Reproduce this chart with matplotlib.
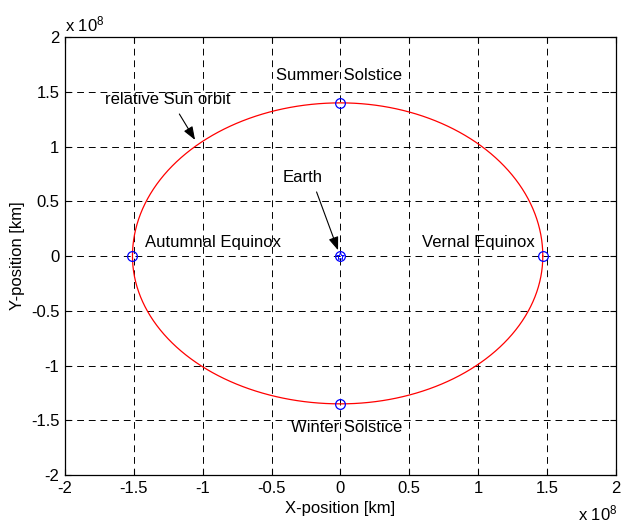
import numpy as np
import matplotlib
matplotlib.use("Agg")
import matplotlib.pyplot as plt

plt.rcParams['font.family'] = ['Liberation Sans', 'DejaVu Sans']
plt.rcParams['mathtext.fontset'] = 'custom'
plt.rcParams['mathtext.rm'] = 'Liberation Sans'
plt.rcParams['mathtext.it'] = 'Liberation Sans'

# Orbit extremes (x 1e8 km)
orbit_right = 1.47
orbit_left = -1.51
orbit_top = 1.40
orbit_bottom = -1.35

# Marker points
event_names = ["Vernal Equinox", "Summer Solstice", "Autumnal Equinox", "Winter Solstice"]
event_x = [1.47, 0.0, -1.51, 0.0]
event_y = [0.0, 1.40, 0.0, -1.35]
earth_x, earth_y = 0.0, 0.0

ticks = [-2, -1.5, -1, -0.5, 0, 0.5, 1, 1.5, 2]
tick_labels = ["-2", "-1.5", "-1", "-0.5", "0", "0.5", "1", "1.5", "2"]

fig = plt.figure(figsize=(6.22, 5.24), dpi=100)
ax = fig.add_axes([0.1045, 0.0935, 0.8855, 0.8355])

t = np.linspace(0, 2 * np.pi, 361)
c, s = np.cos(t), np.sin(t)
ox = np.where(c >= 0, orbit_right, -orbit_left) * c
oy = np.where(s >= 0, orbit_top, -orbit_bottom) * s
ax.plot(ox, oy, color='red', lw=0.9)

ax.plot(event_x, event_y, 'o', mfc='none', mec='blue', ms=7, mew=0.9, ls='none')
ax.plot([earth_x], [earth_y], 'o', mfc='none', mec='blue', ms=7, mew=0.9)
ax.plot([earth_x], [earth_y], '*', mfc='none', mec='blue', ms=6, mew=0.7)

fs = 12
ax.text(-0.47, 1.65, "Summer Solstice", fontsize=fs, va='center', ha='left')
ax.text(-0.36, -1.57, "Winter Solstice", fontsize=fs, va='center', ha='left')
ax.text(-1.42, 0.12, "Autumnal Equinox", fontsize=fs, va='center', ha='left')
ax.text(0.59, 0.12, "Vernal Equinox", fontsize=fs, va='center', ha='left')
ax.text(-0.42, 0.72, "Earth", fontsize=fs, va='center', ha='left')
ax.text(-1.71, 1.43, "relative Sun orbit", fontsize=fs, va='center', ha='left')

ax.annotate("", xy=(-0.01, 0.03), xytext=(-0.18, 0.61),
            arrowprops=dict(arrowstyle='-|>,head_length=0.8,head_width=0.3', color='black', lw=0.8))
ax.annotate("", xy=(-1.045, 1.04), xytext=(-1.18, 1.32),
            arrowprops=dict(arrowstyle='-|>,head_length=0.8,head_width=0.3', color='black', lw=0.8))

ax.set_xlim(-2, 2)
ax.set_ylim(-2, 2)
ax.set_xticks(ticks)
ax.set_xticklabels(tick_labels, fontsize=fs)
ax.set_yticks(ticks)
ax.set_yticklabels(tick_labels, fontsize=fs)
ax.tick_params(direction='in', length=4, width=0.8, top=True, right=True, pad=4)
ax.grid(True, color='black', linestyle=(0, (7, 5)), lw=0.7)
for sp in ax.spines.values():
    sp.set_linewidth(0.9)

ax.set_xlabel("X-position [km]", fontsize=fs, labelpad=4)
ax.set_ylabel("Y-position [km]", fontsize=fs, labelpad=4)

fig.text(65 / 622, 1 - 24 / 524, r"x 10$^{8}$", fontsize=fs, va='center', ha='left')
fig.text(578 / 622, 1 - 513 / 524, r"x 10$^{8}$", fontsize=fs, va='center', ha='left')

fig.savefig("out.png", dpi=100)
